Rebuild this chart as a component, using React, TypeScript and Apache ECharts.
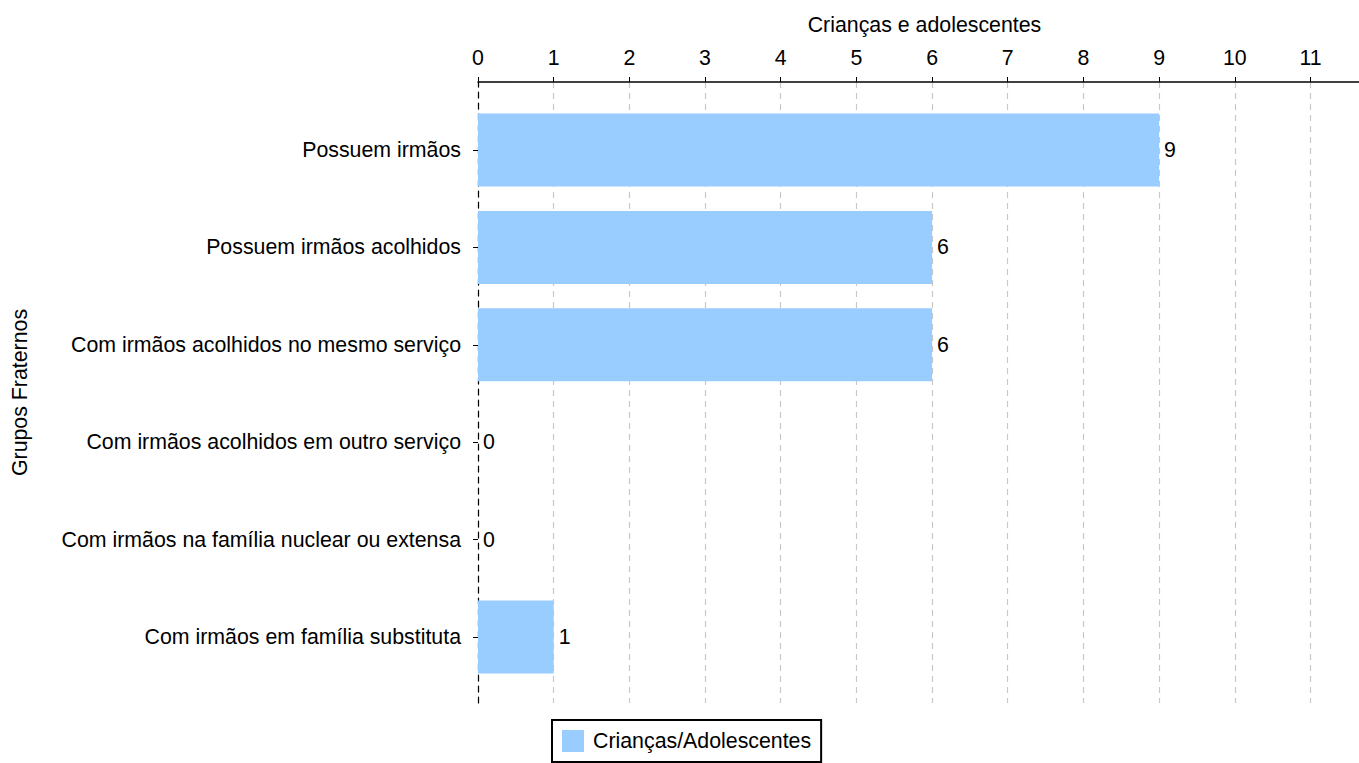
import React, { useEffect, useRef } from "react";
import * as echarts from "echarts";

const categories = [
  "Possuem irmãos",
  "Possuem irmãos acolhidos",
  "Com irmãos acolhidos no mesmo serviço",
  "Com irmãos acolhidos em outro serviço",
  "Com irmãos na família nuclear ou extensa",
  "Com irmãos em família substituta",
];
const values = [9, 6, 6, 0, 0, 1];
const seriesName = "Crianças/Adolescentes";
const xAxisName = "Crianças e adolescentes";
const yAxisName = "Grupos Fraternos";
const xMin = 0;
const xMax = 11.8;
const xInterval = 1;

const FONT = "Liberation Sans, Arial, Helvetica, sans-serif";

export default function App() {
  const ref = useRef<HTMLDivElement>(null);
  useEffect(() => {
    if (!ref.current) return;
    const chart = echarts.init(ref.current, undefined, { renderer: "svg" });
    const text = { fontFamily: FONT, fontSize: 21.33, color: "#000" };
    chart.setOption({
      animation: false,
      backgroundColor: "#fff",
      textStyle: { fontFamily: FONT },
      grid: [
        { left: 478, right: 9, top: 101.3, height: 584.4, containLabel: false },
        { left: 478, right: 9, top: 82, height: 621, containLabel: false },
      ],
      legend: {
        data: [seriesName],
        left: 552,
        top: 720,
        orient: "horizontal",
        icon: "rect",
        itemWidth: 22,
        itemHeight: 22,
        padding: 10,
        borderColor: "#000",
        borderWidth: 2,
        textStyle: { ...text, padding: [0, 0, 0, 4] },
      },
      xAxis: [
        {
          type: "value",
          gridIndex: 0,
          min: xMin,
          max: xMax,
          interval: xInterval,
          show: false,
        },
        {
          type: "value",
          gridIndex: 1,
          position: "top",
          min: xMin,
          max: xMax,
          interval: xInterval,
          name: xAxisName,
          nameLocation: "middle",
          nameGap: 47,
          nameTextStyle: text,
          axisLine: { show: true, onZero: false, lineStyle: { color: "#000", width: 1.5 } },
          axisTick: { show: true, length: 5, lineStyle: { color: "#000", width: 1 } },
          axisLabel: { ...text, margin: 14, showMaxLabel: false,
            formatter: (v: number) => (Number.isInteger(v) ? String(v) : "") },
          splitLine: { show: true, lineStyle: { color: "#c8c8c8", type: [6, 5], width: 1.2 } },
        },
      ],
      yAxis: [
        {
          type: "category",
          gridIndex: 0,
          data: categories,
          inverse: true,
          axisLine: { show: false },
          axisTick: { show: true, alignWithLabel: true, length: 5, lineStyle: { color: "#000" } },
          axisLabel: { ...text, margin: 17 },
          splitLine: { show: false },
        },
        {
          type: "value",
          gridIndex: 1,
          position: "left",
          min: 0,
          max: 1,
          name: yAxisName,
          nameLocation: "middle",
          nameRotate: 90,
          nameGap: 448,
          nameTextStyle: text,
          axisLine: { show: true, onZero: false, lineStyle: { color: "#000", type: [6, 5], width: 1.2 } },
          axisTick: { show: false },
          axisLabel: { show: false },
          splitLine: { show: false },
        },
      ],
      series: [
        {
          name: seriesName,
          type: "bar",
          xAxisIndex: 0,
          yAxisIndex: 0,
          data: values,
          barWidth: "75%",
          itemStyle: { color: "#99CCFF" },
          label: { show: true, position: "right", distance: 5, ...text },
        },
      ],
    });
    return () => chart.dispose();
  }, []);
  return (
    <div style={{ position: "fixed", left: 0, top: 0, width: 1359, height: 763, overflow: "hidden", background: "#fff" }}>
      <div ref={ref} style={{ width: 1380, height: 780 }} />
    </div>
  );
}
